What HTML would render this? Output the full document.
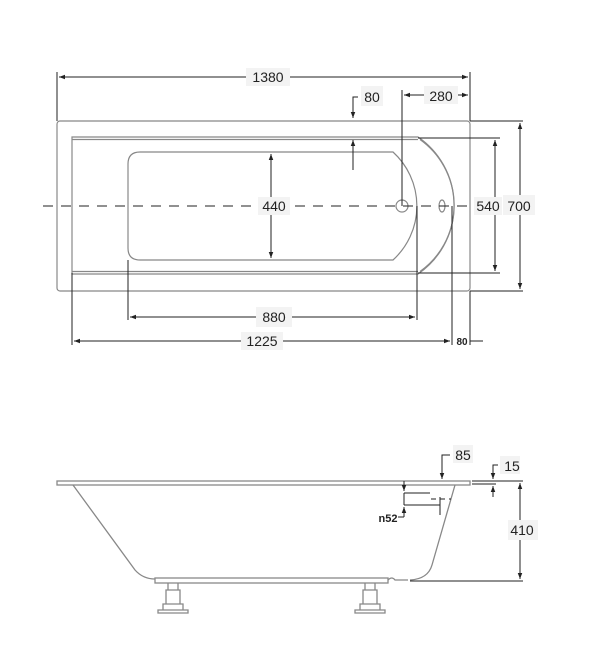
<!DOCTYPE html>
<html><head><meta charset="utf-8"><style>
html,body{margin:0;padding:0;background:#fff;}
svg{display:block;}
text{font-family:"Liberation Sans","DejaVu Sans",sans-serif;font-size:14px;fill:#222;}
</style></head><body>
<svg width="600" height="656" viewBox="0 0 600 656" xmlns="http://www.w3.org/2000/svg">
<defs>
<marker id="a" viewBox="0 0 8 8" refX="8" refY="4" markerWidth="6" markerHeight="6" orient="auto-start-reverse"><path d="M0,1 L8,4 L0,7z" fill="#222"/></marker>
</defs>
<g fill="none" stroke="#888" stroke-width="1.2">
<rect x="57" y="121" width="413" height="170" rx="3"/>
<path d="M72,137 L418,137 A83,83 0 0 1 418,274 L72,274 Z"/>
<path d="M72,139.5 L418,139.5 M72,271.5 L418,271.5"/>
<path d="M420,139.5 A81,81 0 0 1 420,271.5" />
<path d="M140,152 L393,152 A73,73 0 0 1 393,260 L140,260 Q128,260 128,248 L128,164 Q128,152 140,152 Z"/>
<circle cx="402" cy="206" r="6"/>
<ellipse cx="442" cy="206" rx="3" ry="6"/>
</g>
<g stroke="#222" stroke-width="1" fill="none">
<line x1="43" y1="206" x2="470" y2="206" stroke-dasharray="10,8"/>
<line x1="57" y1="72" x2="57" y2="121"/><line x1="470" y1="72" x2="470" y2="121"/>
<line x1="59" y1="77" x2="468" y2="77" marker-start="url(#a)" marker-end="url(#a)"/>
<line x1="402" y1="90" x2="402" y2="206"/>
<line x1="404" y1="95" x2="468" y2="95" marker-start="url(#a)" marker-end="url(#a)"/>
<path d="M358,97 L353,97 L353,118" marker-end="url(#a)"/>
<line x1="353" y1="170" x2="353" y2="140" marker-end="url(#a)"/>
<line x1="271" y1="154" x2="271" y2="258" marker-start="url(#a)" marker-end="url(#a)"/>
<line x1="418" y1="138" x2="500" y2="138"/><line x1="418" y1="273" x2="500" y2="273"/>
<line x1="495" y1="140" x2="495" y2="271" marker-start="url(#a)" marker-end="url(#a)"/>
<line x1="470" y1="121" x2="523" y2="121"/><line x1="470" y1="291" x2="523" y2="291"/>
<line x1="520" y1="123" x2="520" y2="289" marker-start="url(#a)" marker-end="url(#a)"/>
<line x1="128" y1="260" x2="128" y2="320"/><line x1="417" y1="206" x2="417" y2="320"/>
<line x1="130" y1="317" x2="415" y2="317" marker-start="url(#a)" marker-end="url(#a)"/>
<line x1="72" y1="273" x2="72" y2="345"/><line x1="452" y1="206" x2="452" y2="345"/><line x1="470" y1="291" x2="470" y2="345"/>
<line x1="74" y1="341" x2="450" y2="341" marker-start="url(#a)" marker-end="url(#a)"/>
<line x1="470" y1="341" x2="483" y2="341"/>
</g>
<g>
<rect x="246" y="68" width="44" height="18" fill="#f3f3f3"/><text x="268" y="82" text-anchor="middle">1380</text>
<rect x="361" y="86" width="22" height="20" fill="#f3f3f3"/><text x="372" y="102" text-anchor="middle">80</text>
<rect x="424" y="86" width="34" height="18" fill="#f3f3f3"/><text x="441" y="101" text-anchor="middle">280</text>
<rect x="258" y="197" width="32" height="18" fill="#f3f3f3"/><text x="274" y="211" text-anchor="middle">440</text>
<rect x="474" y="197" width="28" height="18" fill="#f3f3f3"/><text x="488" y="211" text-anchor="middle">540</text>
<rect x="503" y="195" width="32" height="20" fill="#f3f3f3"/><text x="519" y="211" text-anchor="middle">700</text>
<rect x="256" y="307" width="36" height="20" fill="#f3f3f3"/><text x="274" y="322" text-anchor="middle">880</text>
<rect x="241" y="332" width="42" height="18" fill="#f3f3f3"/><text x="262" y="346" text-anchor="middle">1225</text>
<text x="462" y="345" text-anchor="middle" style="font-size:10px;font-weight:bold">80</text>
</g>
<g fill="none" stroke="#888" stroke-width="1.3">
<rect x="57" y="481" width="413" height="4"/>
<path d="M73,485 L135,570 Q143,579 155,579"/>
<path d="M455,485 L432,565 Q428,579 410,580"/>
<rect x="155" y="578" width="233" height="5"/>
<path d="M388,580 Q392,576 395,580 L408,580"/>
<path d="M168,583 L168,590 L178,590 L178,583 M166,590 L180,590 L180,604 L166,604Z M163,604 L183,604 L183,610 L163,610Z M158,610 L188,610 L188,613 L158,613Z"/>
<path d="M365,583 L365,590 L375,590 L375,583 M363,590 L377,590 L377,604 L363,604Z M360,604 L380,604 L380,610 L360,610Z M355,610 L385,610 L385,613 L355,613Z"/>
</g>
<g stroke="#222" stroke-width="1" fill="none">
<path d="M450,455 L442,455 L442,479" marker-end="url(#a)"/>
<line x1="472" y1="481" x2="523" y2="481"/><line x1="472" y1="484" x2="496" y2="484"/>
<path d="M498,465 L493,465 L493,479" marker-end="url(#a)"/>
<line x1="493" y1="497" x2="493" y2="486" marker-end="url(#a)"/>
<line x1="520" y1="483" x2="520" y2="579" marker-start="url(#a)" marker-end="url(#a)"/>
<line x1="410" y1="581" x2="523" y2="581"/>
<line x1="404" y1="481" x2="404" y2="491" marker-end="url(#a)"/>
<line x1="404" y1="493" x2="404" y2="505"/>
<line x1="404" y1="517" x2="404" y2="507" marker-end="url(#a)"/>
<line x1="398" y1="517" x2="404" y2="517"/>
<line x1="404" y1="493" x2="430" y2="493"/><line x1="404" y1="505" x2="440" y2="505"/>
<line x1="431" y1="499" x2="451" y2="499" stroke-dasharray="5,4"/>
<line x1="440" y1="497" x2="440" y2="515"/>
</g>
<rect x="453" y="445" width="20" height="18" fill="#f3f3f3"/><text x="463" y="460" text-anchor="middle">85</text>
<rect x="500" y="456" width="20" height="18" fill="#f3f3f3"/><text x="512" y="471" text-anchor="middle">15</text>
<rect x="508" y="520" width="30" height="20" fill="#f3f3f3"/><text x="522" y="535" text-anchor="middle">410</text>
<text x="388" y="522" text-anchor="middle" style="font-size:11px;font-weight:bold">n52</text>
</svg>
</body></html>
